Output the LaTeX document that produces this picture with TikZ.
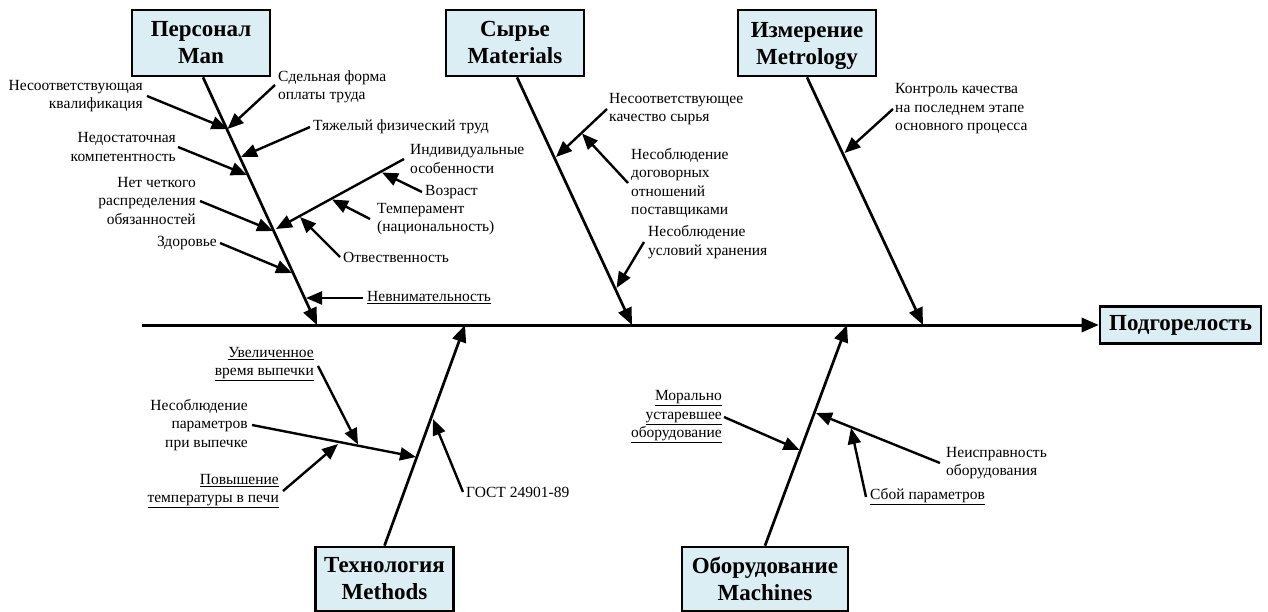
\documentclass[tikz,border=0pt]{standalone}
\usepackage{fontspec}
\setmainfont{Liberation Serif}
\usetikzlibrary{arrows.meta}
\definecolor{boxfill}{RGB}{219,238,244}
\begin{document}
\begin{tikzpicture}[x=1pt,y=-1pt,
  cat/.style={draw=black, line width=2.6pt, fill=boxfill, minimum width=138pt,
    minimum height=66pt, inner sep=0pt, align=center,
    font=\fontsize{23}{27}\selectfont\bfseries},
  lbl/.style={inner sep=0pt, font=\fontsize{15.5}{18.5}\selectfont},
  lblr/.style={lbl, align=right, anchor=east},
  lbll/.style={lbl, align=left, anchor=west},
  bone/.style={line width=2.7pt, -{Triangle[length=17pt,width=14pt]}},
  twig/.style={line width=2.4pt, -{Triangle[length=16pt,width=13pt]}},
]
\useasboundingbox (0,0) rectangle (1268,612);

% category boxes and the effect
\node[cat] (man) at (201,43) {Персонал\\Man};
\node[cat] (mat) at (515,43) {Сырье\\Materials};
\node[cat] (met) at (807,43) {Измерение\\\smash{Metrology}};
\node[cat, minimum height=64pt] (tech) at (384.5,579) {Технология\\Methods};
\node[cat, minimum width=166pt, minimum height=64pt] (mach) at (765,579) {Оборудование\\Machines};
\node[cat, minimum width=161pt, minimum height=37pt] (eff) at (1180.5,325) {Подгорелость};

% spine
\coordinate (tail) at (142,325);
\draw[line width=3pt, -{Triangle[length=17pt,width=14pt]}] (tail) -- (eff.west);

% main bones
\coordinate (manE) at (317,325);
\coordinate (matE) at (632,325);
\coordinate (metE) at (923,325);
\coordinate (techE) at (465,325);
\coordinate (machE) at (847,325);
\draw[bone] (man.south -| 203,0) -- (manE);
\draw[bone] (mat.south -| 517,0) -- (matE);
\draw[bone] (met.south) -- (metE);
\draw[bone] (tech.north) -- (techE);
\draw[bone] (mach.north) -- (machE);

% ---- Man ----
\node[lblr] (m1) at (143,96) {Несоответствующая\\квалификация};
\node[lbll] (m2) at (278,87) {Сдельная форма\\оплаты труда};
\node[lbll] (m3) at (313,127) {Тяжелый физический труд};
\node[lblr] (m4) at (176,147) {Недостаточная\\компетентность};
\node[lblr] (m5) at (196,201) {Нет четкого\\распределения\\обязанностей};
\node[lblr] (m6) at (217,243) {Здоровье};
\node[lbll] (m7) at (367,298) {\underline{Невнимательность}};
\node[lbll] (ind) at (410,159) {Индивидуальные\\особенности};
\node[lbll] (i1) at (425,192) {Возраст};
\node[lbll] (i2) at (377,219) {Темперамент\\(национальность)};
\node[lbll] (i3) at (343,257) {Отвественность};

\coordinate (mA) at (227.5,129);
\coordinate (mB) at (241,157);
\coordinate (mC) at (247,175);
\coordinate (mD) at (273,231);
\coordinate (mE) at (276,229);
\coordinate (mF) at (292,273);
\coordinate (mG) at (306,298);
\coordinate (indS) at (404,159);
\coordinate (iA) at (382,172.5);
\coordinate (iB) at (332,199.5);
\coordinate (iC) at (300,217);

\draw[twig] ([xshift=4pt]m1.east) -- (mA);
\draw[twig] ([xshift=-3pt,yshift=2pt]m2.west) -- (mA);
\draw[twig] ([xshift=-3pt]m3.west) -- (mB);
\draw[twig] ([xshift=2pt]m4.east) -- (mC);
\draw[twig] ([xshift=4pt]m5.east) -- (mD);
\draw[twig] ([xshift=3pt]m6.east) -- (mF);
\draw[twig] ([xshift=-4pt]m7.west) -- (mG);
\draw[twig] (indS) -- (mE);
\draw[twig] ([xshift=-3pt]i1.west) -- (iA);
\draw[twig] ([xshift=-7pt]i2.west) -- (iB);
\draw[twig] ([xshift=-3pt]i3.west) -- (iC);

% ---- Materials ----
\node[lbll] (s1) at (609,109) {Несоответствующее\\качество сырья};
\node[lbll] (s2) at (631,183) {Несоблюдение\\договорных\\отношений\\поставщиками};
\node[lbll] (s3) at (648,242) {Несоблюдение\\условий хранения};
\coordinate (sA) at (556,157);
\coordinate (sB) at (582,133.5);
\coordinate (sC) at (616.5,288);
\draw[twig] ([xshift=-2pt]s1.west) -- (sA);
\draw[twig] ([xshift=-3pt]s2.west) -- (sB);
\draw[twig] ([xshift=-4pt]s3.west) -- (sC);

% ---- Metrology ----
\node[lbll] (k1) at (895,109) {Контроль качества\\на последнем этапе\\основного процесса};
\coordinate (kA) at (844.5,153);
\draw[twig] ([xshift=-2pt]k1.west) -- (kA);

% ---- Methods ----
\node[lblr] (t1) at (314,364) {\underline{Увеличенное}\\\underline{время выпечки}};
\node[lblr] (t2) at (248,425) {Несоблюдение\\параметров\\при выпечке};
\node[lblr] (t3) at (279,491) {\underline{Повышение}\\\underline{температуры в печи}};
\node[lbll] (t4) at (466,492) {ГОСТ 24901-89};
\coordinate (tA) at (416,457);
\coordinate (tB) at (358,444.5);
\coordinate (tC) at (338,444);
\coordinate (tD) at (433,419);
\draw[twig] ([xshift=4pt]t2.east) -- (tA);
\draw[twig] ([xshift=4pt,yshift=-2pt]t1.east) -- (tB);
\draw[twig] ([xshift=4pt]t3.east) -- (tC);
\draw[twig] ([xshift=-3pt]t4.west) -- (tD);

% ---- Machines ----
\node[lblr] (o1) at (722,417) {\underline{Морально}\\\underline{устаревшее}\\\underline{оборудование}};
\node[lbll] (o2) at (946,463) {Неисправность\\оборудования};
\node[lbll] (o3) at (870,497) {\underline{Сбой параметров}};
\coordinate (oA) at (799.5,450);
\coordinate (oB) at (816,413);
\coordinate (oC) at (851,428);
\draw[twig] ([xshift=2pt]o1.east) -- (oA);
\draw[twig] ([xshift=-6pt]o2.west) -- (oB);
\draw[twig] ([xshift=-4pt]o3.west) -- (oC);
\end{tikzpicture}
\end{document}
